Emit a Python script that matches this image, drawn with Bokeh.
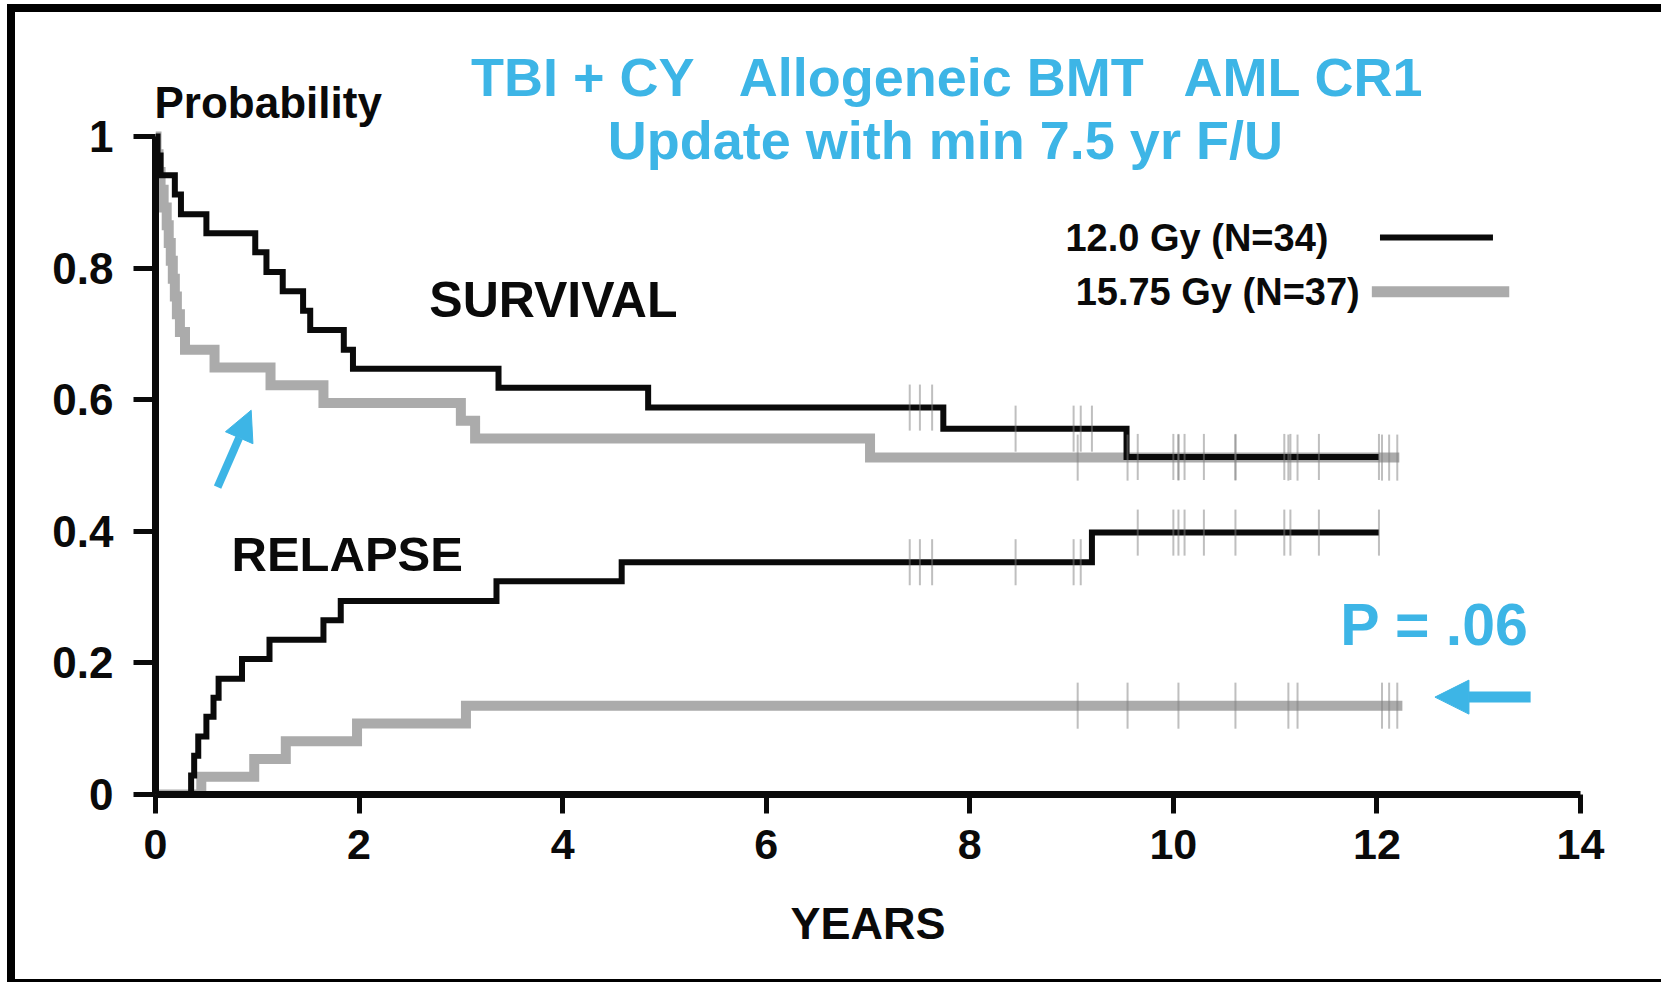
import numpy as np
from bokeh.plotting import figure
from bokeh.models import Range1d, FixedTicker, Arrow, NormalHead, InlineStyleSheet
from bokeh.core.properties import value
from bokeh.embed import file_html
from bokeh.resources import INLINE

# ---------------- data ----------------
# Overall survival, 12.0 Gy (N=34)
surv_120_t = [0, 0.02, 0.05, 0.19, 0.25, 0.50, 0.98, 1.09, 1.25, 1.45, 1.52, 1.85, 1.94, 3.37, 4.84, 7.74, 9.54]
surv_120_v = [1.0, 0.971, 0.941, 0.912, 0.882, 0.853, 0.824, 0.794, 0.765, 0.735, 0.706, 0.676, 0.647, 0.618, 0.588, 0.556, 0.513]
surv_120_end = 12.02
surv_120_cens = [7.41, 7.51, 7.63, 8.45, 9.02, 9.09, 9.20, 9.65, 10.0, 10.05, 10.11, 10.3, 10.61, 11.09, 11.15, 11.43, 12.02]

# Overall survival, 15.75 Gy (N=37)
surv_1575_t = [0, 0.01, 0.03, 0.05, 0.08, 0.11, 0.13, 0.15, 0.17, 0.19, 0.21, 0.24, 0.29, 0.58, 1.13, 1.65, 3.00, 3.14, 7.02]
surv_1575_v = [1.0, 0.973, 0.946, 0.919, 0.892, 0.865, 0.838, 0.811, 0.784, 0.757, 0.730, 0.703, 0.676, 0.649, 0.622, 0.595, 0.568, 0.541, 0.512]
surv_1575_end = 12.22
surv_1575_cens = [9.06, 9.55, 10.05, 10.61, 11.13, 11.22, 12.05, 12.12, 12.2]

# Relapse, 12.0 Gy
rel_120_t = [0, 0.35, 0.38, 0.42, 0.50, 0.57, 0.62, 0.85, 1.12, 1.65, 1.82, 3.35, 4.58, 9.20]
rel_120_v = [0.0, 0.029, 0.059, 0.088, 0.118, 0.147, 0.176, 0.206, 0.235, 0.265, 0.294, 0.324, 0.353, 0.398]
rel_120_end = 12.02
rel_120_cens = [7.41, 7.51, 7.63, 8.45, 9.02, 9.09, 9.65, 10.0, 10.05, 10.11, 10.3, 10.61, 11.09, 11.15, 11.43, 12.02]

# Relapse, 15.75 Gy
rel_1575_t = [0, 0.45, 0.97, 1.28, 1.98, 3.05]
rel_1575_v = [0.0, 0.027, 0.054, 0.081, 0.108, 0.135]
rel_1575_end = 12.25
rel_1575_cens = [9.06, 9.55, 10.05, 10.61, 11.13, 11.22, 12.05, 12.12, 12.2]

x_ticks = [0, 2, 4, 6, 8, 10, 12, 14]
y_ticks = [0, 0.2, 0.4, 0.6, 0.8, 1.0]
y_tick_labels = ["0", "0.2", "0.4", "0.6", "0.8", "1"]

legend_labels = ["12.0 Gy (N=34)", "15.75 Gy (N=37)"]
title_parts = ["TBI + CY", "Allogeneic BMT", "AML CR1"]
subtitle = "Update with min 7.5 yr F/U"
p_value_text = "P = .06"

# ---------------- styling ----------------
BLUE = "#3DB5E6"
BLACK = "#0a0a0a"
GRAY = "#ababab"
FONT = value("Liberation Sans")

W, H = 1661, 982
p = figure(width=W, height=H, x_range=Range1d(0, 14), y_range=Range1d(0, 776 / 658),
           output_backend="svg", toolbar_location=None,
           min_border_left=155, min_border_right=81, min_border_top=18, min_border_bottom=188)
p.xgrid.visible = False
p.ygrid.visible = False
p.outline_line_color = None
p.background_fill_color = "white"
p.border_fill_color = "white"

for ax in (p.xaxis[0], p.yaxis[0]):
    ax.axis_line_width = 7
    ax.axis_line_color = BLACK
    ax.major_tick_line_width = 5
    ax.major_tick_line_color = BLACK
    ax.major_tick_in = 0
    ax.minor_tick_out = 0
    ax.minor_tick_in = 0
    ax.major_label_text_font = "Liberation Sans"
    ax.major_label_text_font_style = "bold"
    ax.major_label_text_color = BLACK

p.xaxis[0].ticker = FixedTicker(ticks=x_ticks)
p.xaxis[0].bounds = (0, 14)
p.xaxis[0].major_tick_out = 19
p.xaxis[0].major_label_standoff = 16
p.xaxis[0].major_label_text_font_size = "43px"
p.xaxis[0].axis_label = "YEARS"
p.xaxis[0].axis_label_text_font = "Liberation Sans"
p.xaxis[0].axis_label_text_font_style = "bold"
p.xaxis[0].axis_label_text_font_size = "45px"
p.xaxis[0].axis_label_text_color = BLACK
p.xaxis[0].axis_label_standoff = 36

p.yaxis[0].ticker = FixedTicker(ticks=y_ticks)
p.yaxis[0].bounds = (0, 1)
p.yaxis[0].major_tick_out = 22
p.yaxis[0].major_label_standoff = 20
p.yaxis[0].major_label_text_font_size = "44px"
p.yaxis[0].major_label_overrides = {t: l for t, l in zip(y_ticks, y_tick_labels)}


def step_xy(t, v, end):
    return list(t) + [end], list(v) + [v[-1]]


def value_at(t, v, tc):
    idx = np.searchsorted(np.asarray(t), np.asarray(tc), side="right") - 1
    return np.asarray(v)[idx]


# gray (15.75 Gy) curves first, black on top
for t, v, end in [(surv_1575_t, surv_1575_v, surv_1575_end), (rel_1575_t, rel_1575_v, rel_1575_end)]:
    xs, ys = step_xy(t, v, end)
    p.step(xs, ys, mode="after", line_color=GRAY, line_width=10, line_join="miter")

for t, v, end in [(surv_120_t, surv_120_v, surv_120_end), (rel_120_t, rel_120_v, rel_120_end)]:
    xs, ys = step_xy(t, v, end)
    p.step(xs, ys, mode="after", line_color=BLACK, line_width=6, line_join="miter")

# censoring marks
cx, cy0, cy1 = [], [], []
for t, v, cens in [(surv_120_t, surv_120_v, surv_120_cens), (surv_1575_t, surv_1575_v, surv_1575_cens),
                   (rel_120_t, rel_120_v, rel_120_cens), (rel_1575_t, rel_1575_v, rel_1575_cens)]:
    vals = value_at(t, v, cens)
    cx += list(cens)
    cy0 += list(vals - 0.035)
    cy1 += list(vals + 0.035)
p.segment(x0=cx, y0=cy0, x1=cx, y1=cy1, line_color="#808080", line_alpha=0.5, line_width=2)

# legend (text on the left, line sample on the right)
p.text(x=[8.94, 9.04], y=[0.8465, 0.763], text=legend_labels, text_font=FONT, text_font_style="bold",
       text_font_size="38px", text_color=BLACK, text_baseline="middle", text_align="left")
p.segment(x0=[12.03], y0=[0.8465], x1=[13.14], y1=[0.8465], line_color=BLACK, line_width=6)
p.segment(x0=[11.95], y0=[0.764], x1=[13.30], y1=[0.764], line_color=GRAY, line_width=11)

# titles
p.text(x=[3.10, 5.73, 10.10], y=[1.090] * 3, text=title_parts, text_font=FONT, text_font_style="bold",
       text_font_size="54px", text_color=BLUE, text_baseline="middle", text_align="left")
p.text(x=[7.76], y=[0.995], text=[subtitle], text_font=FONT, text_font_style="bold",
       text_font_size="54px", text_color=BLUE, text_baseline="middle", text_align="center")

# in-plot labels
p.text(x=[-0.01], y=[1.051], text=["Probability"], text_font=FONT, text_font_style="bold",
       text_font_size="44px", text_color=BLACK, text_baseline="middle", text_align="left")
p.text(x=[2.69], y=[0.751], text=["SURVIVAL"], text_font=FONT, text_font_style="bold",
       text_font_size="50px", text_color=BLACK, text_baseline="middle", text_align="left")
p.text(x=[0.747], y=[0.365], text=["RELAPSE"], text_font=FONT, text_font_style="bold",
       text_font_size="49px", text_color=BLACK, text_baseline="middle", text_align="left")
p.text(x=[11.64], y=[0.257], text=[p_value_text], text_font=FONT, text_font_style="bold",
       text_font_size="59px", text_color=BLUE, text_baseline="middle", text_align="left")

# arrows
p.add_layout(Arrow(end=NormalHead(size=34, fill_color=BLUE, line_color=BLUE),
                   x_start=13.51, y_start=0.148, x_end=12.57, y_end=0.148,
                   line_color=BLUE, line_width=11))
p.add_layout(Arrow(end=NormalHead(size=30, fill_color=BLUE, line_color=BLUE),
                   x_start=0.61, y_start=0.467, x_end=0.94, y_end=0.584,
                   line_color=BLUE, line_width=8))

# black frame of the original image (left, top and bottom edges)
p.stylesheets = [InlineStyleSheet(css="""
:host::after {
  content: "";
  position: absolute;
  left: 7px; top: 4px;
  width: 1654px; height: 978px;
  box-sizing: border-box;
  border-left: 8px solid black;
  border-top: 8px solid black;
  border-bottom: 3px solid black;
  pointer-events: none;
  z-index: 100;
}
""")]

open("out.html", "w").write(file_html(p, INLINE))
